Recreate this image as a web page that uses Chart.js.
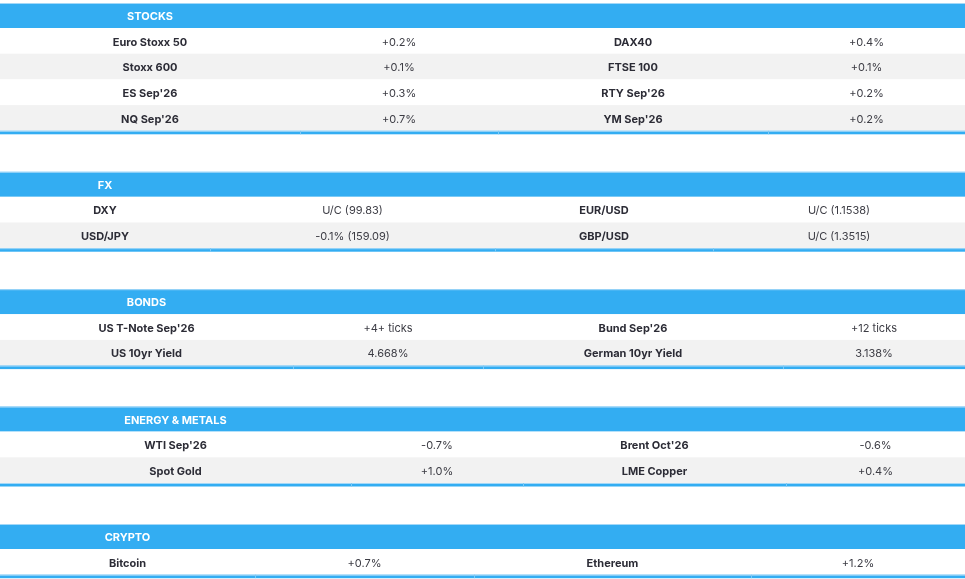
<!DOCTYPE html>
<html>
<head>
<meta charset="utf-8">
<script src="https://cdn.jsdelivr.net/npm/chart.js@4"></script>
<style>
html,body{margin:0;padding:0;background:#fff;}
#wrap{width:965px;height:579px;}
</style>
</head>
<body>
<div id="wrap"><canvas id="c" width="965" height="579"></canvas></div>
<script>
// ---- DATA ----
const sectionTitles = ['STOCKS', 'FX', 'BONDS', 'ENERGY & METALS', 'CRYPTO'];

const stocksLeftNames  = ['Euro Stoxx 50', 'Stoxx 600', "ES Sep'26", "NQ Sep'26"];
const stocksLeftValues = ['+0.2%', '+0.1%', '+0.3%', '+0.7%'];
const stocksRightNames = ['DAX40', 'FTSE 100', "RTY Sep'26", "YM Sep'26"];
const stocksRightValues = ['+0.4%', '+0.1%', '+0.2%', '+0.2%'];

const fxLeftNames  = ['DXY', 'USD/JPY'];
const fxLeftValues = ['U/C (99.83)', '-0.1% (159.09)'];
const fxRightNames = ['EUR/USD', 'GBP/USD'];
const fxRightValues = ['U/C (1.1538)', 'U/C (1.3515)'];

const bondsLeftNames  = ["US T-Note Sep'26", 'US 10yr Yield'];
const bondsLeftValues = ['+4+ ticks', '4.668%'];
const bondsRightNames = ["Bund Sep'26", 'German 10yr Yield'];
const bondsRightValues = ['+12 ticks', '3.138%'];

const energyLeftNames  = ["WTI Sep'26", 'Spot Gold'];
const energyLeftValues = ['-0.7%', '+1.0%'];
const energyRightNames = ["Brent Oct'26", 'LME Copper'];
const energyRightValues = ['-0.6%', '+0.4%'];

const cryptoLeftNames  = ['Bitcoin'];
const cryptoLeftValues = ['+0.7%'];
const cryptoRightNames = ['Ethereum'];
const cryptoRightValues = ['+1.2%'];

// ---- LAYOUT (not data) ----
const W = 965, H = 579;
const firstTop = 3, headerH = 25, rowH = 25.7, lineH = 3, gapH = 38;
const colEdges = [
  [0, 300, 498, 768, 965],
  [0, 210, 495, 713, 965],
  [0, 293, 483, 783, 965],
  [0, 351, 523, 786, 965],
  [0, 255, 474, 751, 965]
];
const BLUE = '#33adf2', LIGHTBLUE = '#a3d8f8', SEPBLUE = '#7cc8f5', GREY = '#f2f2f2';
const FONT = 'Inter, "Noto Sans", sans-serif';

const sections = [
  [stocksLeftNames, stocksLeftValues, stocksRightNames, stocksRightValues],
  [fxLeftNames, fxLeftValues, fxRightNames, fxRightValues],
  [bondsLeftNames, bondsLeftValues, bondsRightNames, bondsRightValues],
  [energyLeftNames, energyLeftValues, energyRightNames, energyRightValues],
  [cryptoLeftNames, cryptoLeftValues, cryptoRightNames, cryptoRightValues]
];

const tablePlugin = {
  id: 'tablePlugin',
  beforeDatasetsDraw(chart) {
    const ctx = chart.ctx;
    const xs = chart.scales.x, ys = chart.scales.y;
    const px = v => xs.getPixelForValue(v);
    const py = v => ys.getPixelForValue(v);
    const rect = (x0, y0, x1, y1, c) => {
      ctx.fillStyle = c;
      ctx.fillRect(px(x0), py(y0), px(x1) - px(x0), py(y1) - py(y0));
    };
    ctx.save();
    let top = firstTop;
    sections.forEach((sec, s) => {
      const edges = colEdges[s];
      const centers = [0, 1, 2, 3].map(i => (edges[i] + edges[i + 1]) / 2);
      const n = sec[0].length;
      // header
      rect(0, top, W, top + headerH, BLUE);
      rect(0, top, W, top + 1, LIGHTBLUE);
      ctx.fillStyle = '#ffffff';
      ctx.font = 'bold 11px ' + FONT;
      ctx.textAlign = 'center';
      ctx.textBaseline = 'middle';
      ctx.fillText(sectionTitles[s], px(centers[0]), py(top + headerH / 2 + 1.2));
      // rows
      for (let r = 0; r < n; r++) {
        const y0 = top + headerH + r * rowH;
        rect(0, y0, W, y0 + rowH, r % 2 === 0 ? '#ffffff' : GREY);
        const cy = py(y0 + rowH / 2 + 1.4);
        for (let c = 0; c < 4; c++) {
          const isName = c % 2 === 0;
          ctx.font = (isName ? 'bold 11px ' : '11px ') + FONT;
          ctx.fillStyle = isName ? '#2c2c36' : '#3c3c44';
          ctx.fillText(sec[c][r], px(centers[c]), cy);
        }
      }
      // bottom line
      const yb = top + headerH + n * rowH;
      rect(0, yb, W, yb + lineH + 0.5, BLUE);
      rect(0, yb, W, yb + 1, LIGHTBLUE);
      for (let i = 1; i < 4; i++) {
        rect(edges[i], yb, edges[i] + 1, yb + lineH + 0.5, SEPBLUE);
      }
      top = yb + lineH + gapH;
    });
    ctx.restore();
  }
};

new Chart(document.getElementById('c'), {
  type: 'scatter',
  data: { datasets: [{ data: [], pointRadius: 0 }] },
  options: {
    responsive: false,
    animation: false,
    devicePixelRatio: 1,
    layout: { padding: 0 },
    plugins: { legend: { display: false }, tooltip: { enabled: false } },
    scales: {
      x: { type: 'linear', min: 0, max: W, display: false },
      y: { type: 'linear', min: 0, max: H, reverse: true, display: false }
    }
  },
  plugins: [tablePlugin]
});
</script>
</body>
</html>
